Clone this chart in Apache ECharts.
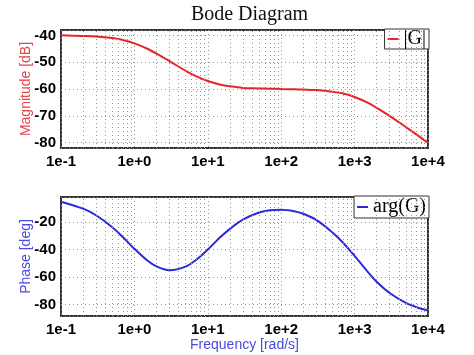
<!DOCTYPE html>
<html><head><meta charset="utf-8">
<script src="https://cdn.jsdelivr.net/npm/echarts@6/dist/echarts.min.js"></script>
<style>html,body{margin:0;padding:0;background:#fff}#c{width:474px;height:355px}</style>
</head><body><div id="c"></div>
<script>
const freq = [0.1,0.2,0.3,0.5,0.7,1,1.5,2,3,5,7,10,15,20,30,50,70,100,150,200,300,500,700,1000,1500,2000,3000,5000,7000,10000];
const magnitude = [-40.0,-40.2,-40.4,-41.0,-41.7,-43.0,-45.0,-46.8,-49.6,-53.2,-55.3,-57.0,-58.4,-59.0,-59.6,-59.8,-59.9,-60.0,-60.1,-60.2,-60.4,-61.0,-61.7,-63.0,-65.1,-67.0,-70.0,-74.2,-77.0,-80.0];
const phase = [-5.1,-10.2,-15.0,-23.7,-31.0,-39.4,-47.9,-52.2,-55.0,-52.4,-47.3,-39.9,-30.7,-24.9,-18.2,-13.0,-11.3,-10.9,-12.0,-13.9,-18.4,-27.6,-35.2,-44.5,-56.0,-63.4,-71.6,-78.8,-81.9,-84.3];
const xTickLabels = ['1e-1','1e+0','1e+1','1e+2','1e+3','1e+4'];
const decades = [0.1,1,10,100,1000];
const minorSteps = [2,3,4,5,6,7,8,9];
const magRange = [-82, -38];
const phaseRange = [-88.3, -1.7];

const minorX = [];
decades.forEach(d => minorSteps.forEach(m => minorX.push(+(d*m).toPrecision(3))));

const red = '#e3262c', blue = '#2a2ad6';
const gridStyle = {color:'#949494', type:[1,3], width:1};
function xAxisOpt(gi){
  return {
    type:'log', logBase:10, gridIndex:gi, min:0.1, max:10000,
    axisLine:{show:false}, axisTick:{show:false},
    splitLine:{show:true, lineStyle:gridStyle},
    axisLabel:{
      margin:6, color:'#000', fontFamily:'Liberation Sans', fontSize:15, fontWeight:'bold',
      formatter: v => xTickLabels[Math.round(Math.log10(v)) + 1]
    },
    name: gi===1 ? 'Frequency [rad/s]' : '',
    nameLocation:'middle', nameGap:22, nameMoveOverlap:false,
    nameTextStyle:{color:'#4a4ae0', fontFamily:'Liberation Sans', fontSize:14}
  };
}
function yAxisOpt(gi, range, name, color){
  return {
    type:'value', gridIndex:gi, min:range[0], max:range[1], splitNumber:5,
    axisLine:{show:false}, axisTick:{show:false},
    splitLine:{show:true, lineStyle:gridStyle},
    axisLabel:{margin:5, color:'#000', fontFamily:'Liberation Sans', fontSize:15, fontWeight:'bold',
      showMinLabel:false, showMaxLabel:false},
    name:name, nameLocation:'middle', nameGap:35, nameRotate:90, nameMoveOverlap:false,
    nameTextStyle:{color:color, fontFamily:'Liberation Sans', fontSize:14, verticalAlign:'middle'}
  };
}
function minorSeries(gi){
  return {
    type:'line', name:'minor'+gi, xAxisIndex:gi, yAxisIndex:gi, data:[], z:1, silent:true,
    markLine:{silent:true, symbol:'none', animation:false, label:{show:false},
      lineStyle:gridStyle,
      data: minorX.map(v => ({xAxis:v}))}
  };
}
function legendOpt(top, name, lh){
  return {
    data:[{name:name, icon:'rect'}], right:45, top:top, orient:'horizontal',
    backgroundColor:'#fff', borderColor:'#333', borderWidth:1, borderRadius:0,
    padding:[0,3,0,3], itemWidth:11, itemHeight:2, itemGap:0,
    textStyle:{fontFamily:'Liberation Serif', fontSize:20, color:'#000', lineHeight:lh}
  };
}
const chart = echarts.init(document.getElementById('c'), null, {renderer:'canvas'});
chart.setOption({
  animation:false,
  title:{text:'Bode Diagram', left:244.5, top:0, textAlign:'center',
    textStyle:{fontFamily:'Liberation Serif', fontSize:20, fontWeight:'normal', color:'#111'}},
  grid:[
    {left:61, right:46, top:30, height:118, show:true, borderColor:'#333', borderWidth:2, backgroundColor:'transparent'},
    {left:61, right:46, top:197, height:119, show:true, borderColor:'#333', borderWidth:2, backgroundColor:'transparent'}
  ],
  legend:[legendOpt(29,'|G|',17), legendOpt(196,'arg(G)',22)],
  xAxis:[xAxisOpt(0), xAxisOpt(1)],
  yAxis:[yAxisOpt(0, magRange, 'Magnitude [dB]', '#e8444a'), yAxisOpt(1, phaseRange, 'Phase [deg]', '#4a4ae0')],
  series:[
    minorSeries(0), minorSeries(1),
    {type:'line', name:'|G|', xAxisIndex:0, yAxisIndex:0, z:3, symbol:'none', smooth:0.3,
      lineStyle:{color:red, width:2}, itemStyle:{color:red},
      data: freq.map((f,i)=>[f, magnitude[i]])},
    {type:'line', name:'arg(G)', xAxisIndex:1, yAxisIndex:1, z:3, symbol:'none', smooth:0.3,
      lineStyle:{color:blue, width:2}, itemStyle:{color:blue},
      data: freq.map((f,i)=>[f, phase[i]])}
  ]
});
</script></body></html>
